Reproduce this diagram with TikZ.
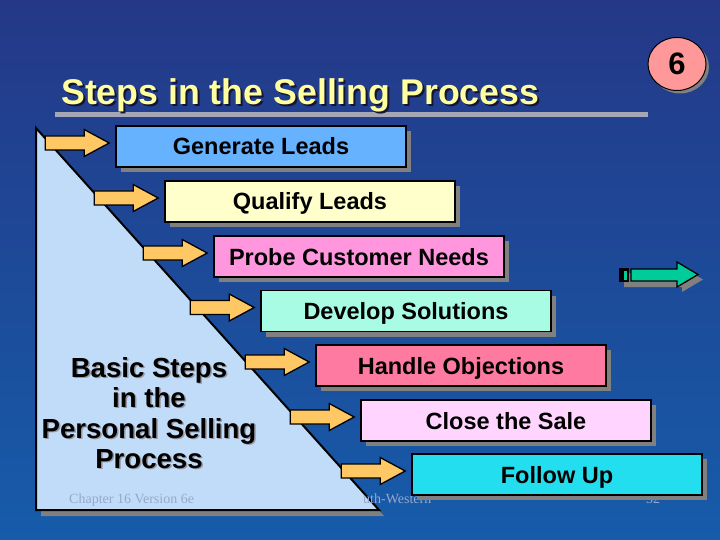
\documentclass[tikz,border=0pt]{standalone}
\usepackage{fontspec}
\setmainfont{Liberation Sans}
\newfontfamily\footserif{Liberation Serif}
\usetikzlibrary{shapes.geometric,shadows,calc}
\definecolor{bgtop}{RGB}{36,56,135}
\definecolor{bgbot}{RGB}{22,92,170}
\definecolor{shadowgray}{RGB}{128,128,128}
\definecolor{lblshadow}{RGB}{150,150,160}
\definecolor{bargray}{RGB}{165,168,180}
\definecolor{titleyellow}{RGB}{255,255,160}
\definecolor{tri}{RGB}{192,220,248}
\definecolor{arrowyellow}{RGB}{255,200,100}
\definecolor{arrowgreen}{RGB}{0,204,153}
\definecolor{footc}{RGB}{150,168,205}
\definecolor{pinksix}{RGB}{255,153,153}
\definecolor{cA}{RGB}{102,178,255}
\definecolor{cB}{RGB}{255,255,204}
\definecolor{cC}{RGB}{255,150,222}
\definecolor{cD}{RGB}{168,252,228}
\definecolor{cE}{RGB}{255,122,160}
\definecolor{cF}{RGB}{255,212,255}
\definecolor{cG}{RGB}{34,222,238}
\begin{document}
\begin{tikzpicture}[x=1pt,y=-1pt,
  stepbox/.style={draw=black, line width=1.6pt, minimum width=290, minimum height=41,
    inner sep=0pt, text height=17, text depth=0,
    font=\fontsize{23.5}{26}\selectfont\bfseries,
    drop shadow={shadow xshift=5pt, shadow yshift=-5pt, fill=shadowgray, opacity=1}},
  blockarrow/.style={draw=black, line width=1.3pt, fill=arrowyellow, line join=miter},
  yarrow/.pic={\draw[blockarrow] (0,0) -- (-25,-13.5) -- (-25,-7) -- (-64,-7) -- (-64,7) -- (-25,7) -- (-25,13.5) -- cycle;},
  foot/.style={inner sep=0pt, text=footc, font=\footserif\fontsize{14}{16}\selectfont},
  leftlbl/.style={inner sep=0pt, anchor=base, font=\fontsize{27.6}{30}\selectfont\bfseries},
  titlefont/.style={inner sep=0pt, anchor=base west, font=\fontsize{35.7}{40}\selectfont\bfseries}
]
\useasboundingbox (0,0) rectangle (720,540);
\shade[top color=bgtop, bottom color=bgbot] (0,0) rectangle (720,540);

% footer number behind the boxes
\node[foot, anchor=base west] (fn) at (646,503) {32};

% triangle
\fill[shadowgray] (41,133) -- (41,516) -- (384,516) -- cycle;
\draw[line width=2pt, fill=tri, line join=miter] (36,128) -- (36,510) -- (379,510) -- cycle;
\node[foot, anchor=base west] (fw) at (363,503) {uth-Western};
\node[foot, anchor=base west] (fc) at (69,503) {Chapter 16 Version 6e};

% left label
\foreach \t/\y/\n in {Basic Steps/377/l1, in the/407/l2, Personal Selling/438/l3, Process/468/l4}{
  \node[leftlbl, text=lblshadow] (\n s) at (150.5,\y+1.5) {\t};
  \node[leftlbl, text=black] (\n) at (149,\y) {\t};
}

% step boxes
\node[stepbox, fill=cA] (b1) at (261,146.5) {Generate Leads};
\node[stepbox, fill=cB] (b2) at (310,201.5) {Qualify Leads};
\node[stepbox, fill=cC] (b3) at (359,256.5) {Probe Customer Needs};
\node[stepbox, fill=cD] (b4) at (406,311) {Develop Solutions};
\node[stepbox, fill=cE] (b5) at (461,365.5) {Handle Objections};
\node[stepbox, fill=cF] (b6) at (506,420.5) {Close the Sale};
\node[stepbox, fill=cG] (b7) at (557,474.5) {Follow Up};

% yellow arrows
\foreach \b in {b1,b2,b3,b4,b5,b6,b7}{
  \pic at ($(\b.west)+(-6,-3.5)$) {yarrow};
}

% green arrow
\begin{scope}[shift={(5,5)}]
  \fill[shadowgray] (619,268) -- (677,268) -- (677,262) -- (698,274.5) -- (677,287) -- (677,282) -- (619,282) -- cycle;
\end{scope}
\fill[black] (619,268) rectangle (629,282);
\fill[arrowgreen] (623.5,270.5) rectangle (627,279.5);
\draw[draw=black, line width=1.3pt, fill=arrowgreen, line join=miter] (631,269) -- (677,269) -- (677,262) -- (698,274.5) -- (677,287) -- (677,281) -- (631,281) -- cycle;

% title
\fill[bargray] (55,112) rectangle (648,117.5);
\node[titlefont, text={rgb,255:red,20;green,20;blue,50}] (titles) at (63,106.5) {Steps in the Selling Process};
\node[titlefont, text=titleyellow] (title) at (61,104.5) {Steps in the Selling Process};

% number badge
\node[ellipse, draw=black, line width=1pt, fill=pinksix, minimum width=58, minimum height=53, inner sep=0pt,
  drop shadow={shadow xshift=3pt, shadow yshift=-3pt, fill=shadowgray, opacity=1},
  font=\fontsize{31}{31}\selectfont\bfseries] (six) at (677,64) {6};
\end{tikzpicture}
\end{document}
